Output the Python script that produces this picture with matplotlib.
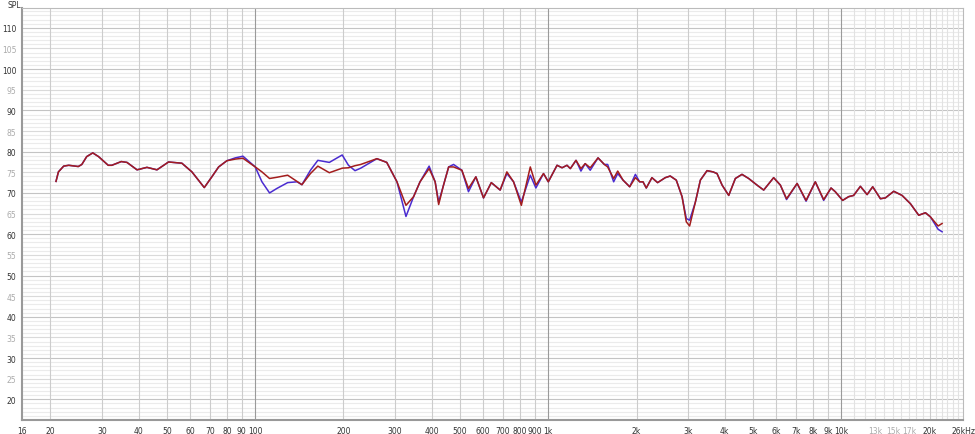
import numpy as np
from matplotlib import pyplot as plt

# Frequency response (Hz, dB SPL)
freq = [20.9, 21.3, 22.2, 23.1, 24.9, 25.6, 26.6, 27.9, 29.2, 31.5, 32.4, 34.9, 36.5,
        39.5, 42.7, 46.2, 50.6, 56.2, 60.8, 67.0, 71.1, 75.0, 80.0, 85.5, 90.8, 100,
        105.4, 111.9, 118.6, 129, 138.8, 144.3, 154.3, 163.5, 179, 198, 208, 219, 229,
        260, 281, 304.5, 326.8, 347, 365, 392, 411, 422.5, 439, 457, 475, 507, 534,
        566, 601, 639, 685, 722, 761, 809, 868, 907, 963, 1000, 1071, 1114, 1158,
        1189, 1243, 1292, 1336, 1390, 1478, 1553, 1594, 1671, 1725, 1799, 1895, 1982,
        2049, 2104, 2159, 2257, 2360, 2506, 2606, 2733, 2860, 2957, 3035, 3176, 3302,
        3480, 3648, 3764, 3917, 4127, 4347, 4580, 4827, 5154, 5431, 5873, 6192, 6500,
        7063, 7577, 8147, 8701, 9220, 9530, 10100, 10587, 11010, 11610, 12240, 12790,
        13590, 14130, 15090, 16110, 17200, 18360, 19360, 20130, 21380, 22060]

spl_blue = [72.8, 75.1, 76.5, 76.7, 76.4, 76.9, 78.8, 79.7, 78.8, 76.7, 76.7, 77.6, 77.4,
            75.6, 76.2, 75.6, 77.5, 77.2, 75.1, 71.3, 73.9, 76.3, 77.8, 78.5, 78.9, 76.3,
            72.7, 70.0, 71.1, 72.5, 72.7, 72.0, 75.5, 77.9, 77.4, 79.2, 76.7, 75.4, 76.0,
            78.3, 77.4, 72.7, 64.3, 69.1, 72.7, 76.5, 72.7, 67.8, 71.9, 76.3, 76.9, 75.5, 70.3,
            73.9, 68.8, 72.5, 70.7, 74.7, 72.7, 67.8, 74.3, 71.2, 74.7, 72.7, 76.7, 76.1, 76.7,
            75.9, 77.9, 75.3, 77.1, 75.5, 78.5, 76.9, 76.9, 72.7, 74.7, 73.1, 71.5, 74.5,
            72.7, 72.7, 71.2, 73.7, 72.5, 73.7, 74.1, 73.1, 69.1, 63.8, 63.4, 67.8, 73.1,
            75.4, 75.1, 74.7, 71.9, 69.4, 73.5, 74.5, 73.5, 71.9, 70.7, 73.7, 71.9, 68.4,
            72.3, 68.0, 72.7, 68.2, 71.2, 70.3, 68.2, 69.1, 69.4, 71.6, 69.6, 71.5,
            68.6, 68.8, 70.4, 69.4, 67.4, 64.6, 65.2, 64.2, 61.2, 60.6]

spl_red = [72.8, 75.1, 76.5, 76.7, 76.4, 76.9, 78.8, 79.7, 78.8, 76.7, 76.7, 77.6, 77.4,
           75.6, 76.2, 75.6, 77.5, 77.2, 75.1, 71.3, 73.9, 76.3, 77.8, 78.2, 78.4, 76.3,
           75.1, 73.5, 73.8, 74.3, 72.8, 72.0, 74.7, 76.5, 74.9, 76.0, 76.1, 76.6, 76.9,
           78.3, 77.4, 72.7, 67.0, 69.1, 72.7, 75.9, 72.7, 67.2, 71.9, 76.3, 76.3, 75.5, 71.1,
           73.9, 68.8, 72.5, 70.7, 75.1, 72.7, 67.0, 76.3, 71.9, 74.7, 72.7, 76.7, 76.1, 76.7,
           75.9, 77.9, 75.9, 77.1, 76.1, 78.5, 76.9, 76.3, 73.5, 75.3, 73.1, 71.5, 73.7,
           72.7, 72.7, 71.2, 73.7, 72.5, 73.7, 74.1, 73.1, 69.1, 63.0, 62.0, 67.8, 73.1,
           75.4, 75.1, 74.7, 71.9, 69.4, 73.5, 74.5, 73.5, 71.9, 70.7, 73.7, 71.9, 68.6,
           72.3, 68.2, 72.7, 68.4, 71.2, 70.3, 68.2, 69.1, 69.4, 71.6, 69.6, 71.5,
           68.6, 68.8, 70.4, 69.4, 67.4, 64.6, 65.2, 64.2, 62.0, 62.6]

xtick_vals = [16, 20, 30, 40, 50, 60, 70, 80, 90, 100, 200, 300, 400, 500, 600, 700, 800, 900,
              1000, 2000, 3000, 4000, 5000, 6000, 7000, 8000, 9000, 10000, 13000, 15000, 17000,
              20000, 26000]
xtick_text = ['16', '20', '30', '40', '50', '60', '70', '80', '90', '100', '200', '300', '400',
              '500', '600', '700', '800', '900', '1k', '2k', '3k', '4k', '5k', '6k', '7k', '8k',
              '9k', '10k', '13k', '15k', '17k', '20k', '26kHz']
faint_x = ['13k', '15k', '17k']

W, H = 975, 435
fig = plt.figure(figsize=(W / 100, H / 100), dpi=100)
ax = fig.add_axes([22 / W, (H - 421) / H, (963 - 22) / W, (421 - 9) / H])
ax.set_xscale('log')
ax.set_xlim(16, 26000)
ax.set_ylim(15, 114.8)

# grid
for v in range(16, 115):
    if v % 10 == 0:
        c = '#c4c4c4'
    elif v % 5 == 0:
        c = '#dadada'
    else:
        c = '#ebebeb'
    ax.axhline(v, color=c, lw=0.8, zorder=0)
for f in [20, 30, 40, 50, 60, 70, 80, 90, 200, 300, 400, 500, 600, 700, 800, 900,
          2000, 3000, 4000, 5000, 6000, 7000, 8000, 9000, 20000]:
    ax.axvline(f, color='#cccccc', lw=0.8, zorder=0)
for f in range(11000, 26000, 1000):
    if f != 20000:
        ax.axvline(f, color='#e2e2e2', lw=0.8, zorder=0)
for f in [100, 1000, 10000]:
    ax.axvline(f, color='#9a9a9a', lw=0.8, zorder=0)

ax.plot(freq, spl_blue, color='#4a2bd0', lw=1.1, zorder=2, solid_joinstyle='round')
ax.plot(freq, spl_red, color='#a31d1d', lw=1.1, zorder=3, solid_joinstyle='round')

ax.minorticks_off()
ax.set_xticks(xtick_vals)
ax.set_xticklabels(xtick_text)
ax.set_yticks(range(20, 115, 5))
ax.set_yticklabels([str(v) for v in range(20, 115, 5)])
ax.tick_params(length=0, labelsize=5.5, colors='#333333', pad=4)
for lab in ax.get_xticklabels():
    if lab.get_text() in faint_x:
        lab.set_color('#aaaaaa')
for lab, v in zip(ax.get_yticklabels(), range(20, 115, 5)):
    if v % 10:
        lab.set_color('#aaaaaa')

for side in ['left', 'bottom']:
    ax.spines[side].set_color('#999999')
    ax.spines[side].set_linewidth(1.5)
for side in ['right', 'top']:
    ax.spines[side].set_color('#bbbbbb')
    ax.spines[side].set_linewidth(0.8)

fig.text(8 / W, 1 - 5 / H, 'SPL', fontsize=5.5, color='#333333', va='center')

fig.savefig('out.png', dpi=100)
